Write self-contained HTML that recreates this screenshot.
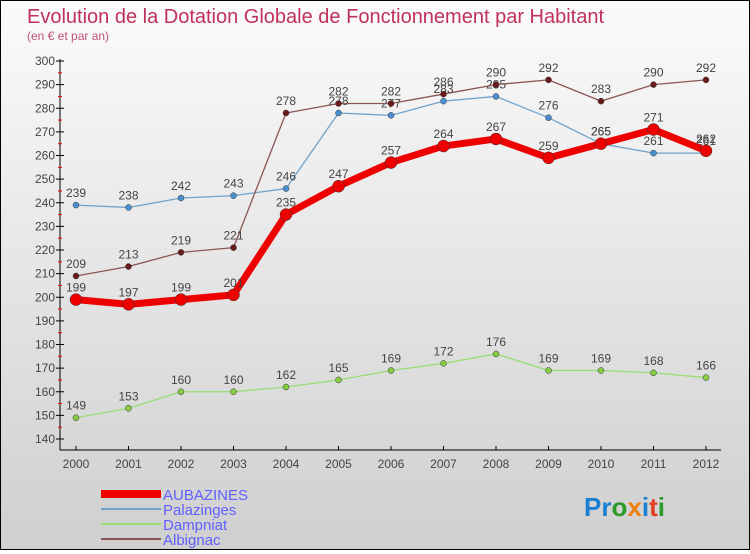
<!DOCTYPE html>
<html><head><meta charset="utf-8"><style>
body{margin:0;width:750px;height:550px;overflow:hidden}
#wrap{position:relative;width:748px;height:548px;border:1px solid #000;background:linear-gradient(#fbfbfb,#cfcfcf);font-family:"Liberation Sans",sans-serif}
</style></head><body>
<div id="wrap">
<svg id="svg" width="748" height="548" xmlns="http://www.w3.org/2000/svg">
<text x="26" y="22" font-size="20" fill="#c0305a">Evolution de la Dotation Globale de Fonctionnement par Habitant</text>
<text x="26" y="39" font-size="12" fill="#c0507a">(en € et par an)</text>
<g id="axes"></g><g id="series"></g>
<g>
<rect x="100" y="489" width="60" height="8" fill="#e00"/>
<text x="162" y="499" font-size="15" fill="#6060ff">AUBAZINES</text>
<rect x="100" y="507" width="60" height="2" fill="#6fa3cc"/>
<text x="162" y="514" font-size="15" fill="#6060ff">Palazinges</text>
<rect x="100" y="522" width="60" height="2" fill="#99dd77"/>
<text x="162" y="529" font-size="15" fill="#6060ff">Dampniat</text>
<rect x="100" y="537" width="60" height="2" fill="#8a5555"/>
<text x="162" y="544" font-size="15" fill="#6060ff">Albignac</text>
</g>
<text x="583" y="515" font-size="26" font-weight="bold"><tspan fill="#1a7fd0">Pr</tspan><tspan fill="#2a9a2a">o</tspan><tspan fill="#f08010">x</tspan><tspan fill="#1a7fd0">i</tspan><tspan fill="#e04020">t</tspan><tspan fill="#2a9a2a">i</tspan></text>
</svg></div>
<script>
const years=[2000,2001,2002,2003,2004,2005,2006,2007,2008,2009,2010,2011,2012];
const yTicks=[140,150,160,170,180,190,200,210,220,230,240,250,260,270,280,290,300];
const aubazines=[199,197,199,201,235,247,257,264,267,259,265,271,262];
const palazinges=[239,238,242,243,246,278,277,283,285,276,265,261,261];
const dampniat=[149,153,160,160,162,165,169,172,176,169,169,168,166];
const albignac=[209,213,219,221,278,282,282,286,290,292,283,290,292];
const NS="http://www.w3.org/2000/svg";
const X=i=>75+i*52.5, Y=v=>60+(300-v)*2.3625;
function mk(t,a,p){const e=document.createElementNS(NS,t);for(const k in a)e.setAttribute(k,a[k]);p.appendChild(e);return e;}
const ax=document.getElementById('axes'), sg=document.getElementById('series');
let l=mk('line',{x1:59,y1:58,x2:59,y2:449,stroke:'#000'},ax);


l=mk('line',{x1:59,y1:449,x2:720,y2:449,stroke:'#000'},ax);


yTicks.forEach(v=>{mk('line',{x1:55,y1:Y(v),x2:63,y2:Y(v),stroke:'#000'},ax);
 if(v<300)mk('line',{x1:57,y1:Y(v+5),x2:61,y2:Y(v+5),stroke:'#e00'},ax);
 const t=mk('text',{x:54,y:Y(v)+4,'font-size':12,fill:'#444','text-anchor':'end'},ax);t.textContent=v;
 
 });
years.forEach((y,i)=>{mk('line',{x1:X(i),y1:445,x2:X(i),y2:449,stroke:'#000'},ax);
 const t=mk('text',{x:X(i),y:467,'font-size':12,fill:'#444','text-anchor':'middle'},ax);t.textContent=y;
 
 });
function series(d,name,col,w,r,dot){
 const g=mk('g',{},sg);
 
 
 mk('polyline',{points:d.map((v,i)=>X(i)+','+Y(v)).join(' '),fill:'none',stroke:col,'stroke-width':w,'stroke-linejoin':'round'},g);
 d.forEach((v,i)=>{const c=mk('circle',{cx:X(i),cy:Y(v),r:r,fill:dot,stroke:'#333','stroke-width':0.5},g);
  
  
  const t=mk('text',{x:X(i),y:Y(v)-8,'font-size':12,fill:'#444','text-anchor':'middle'},g);t.textContent=v;
  
  });
}
series(palazinges,'palazinges','#6fa3cc',1.3,3,'#4a90d0');
series(dampniat,'dampniat','#99dd77',1.3,3,'#88cc44');
series(albignac,'albignac','#8a5555',1.3,3,'#6a1a1a');
series(aubazines,'aubazines','#ee0000',7,6,'#ee0000');
</script>
</body></html>
